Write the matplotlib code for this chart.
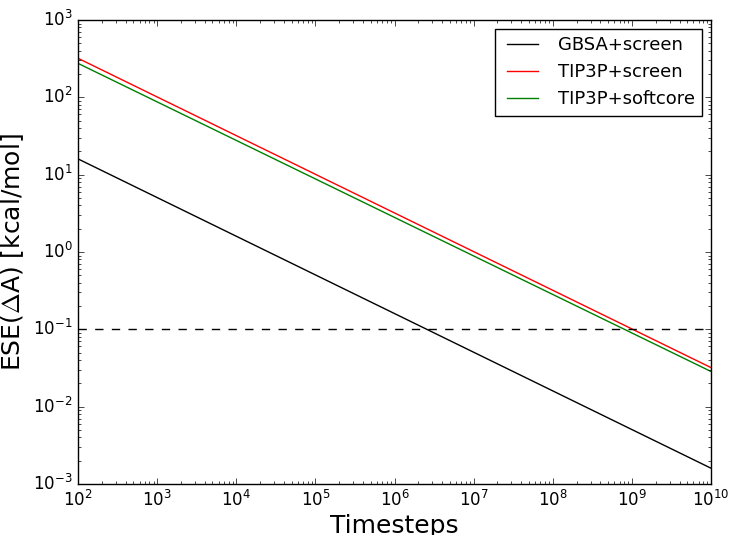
import matplotlib
matplotlib.use('Agg')
import matplotlib.pyplot as plt
import numpy as np

plt.style.use('classic')

timesteps = [1e2, 1e10]
gbsa_screen = [16.0, 0.0016]
tip3p_screen = [320.0, 0.032]
tip3p_softcore = [275.0, 0.0285]
threshold = 0.1

fig = plt.figure(figsize=(7.3, 5.35), dpi=100)
ax = fig.add_axes([78 / 730, 1 - 484 / 535, 633 / 730, 464 / 535])

ax.loglog(timesteps, gbsa_screen, 'k-', label='GBSA+screen')
ax.loglog(timesteps, tip3p_screen, 'r-', label='TIP3P+screen')
ax.loglog(timesteps, tip3p_softcore, 'g-', label='TIP3P+softcore')
ax.axhline(threshold, color='k', linestyle='--', linewidth=1)

ax.set_xlim(1e2, 1e10)
ax.set_ylim(1e-3, 1e3)
ax.set_xlabel('Timesteps', fontsize=18, labelpad=3)
ax.set_ylabel(r'ESE($\Delta$A) [kcal/mol]', fontsize=18)
ax.tick_params(labelsize=12)

ax.legend(loc='upper right', fontsize=13, handlelength=2.3)

fig.savefig('out.png', dpi=100)
